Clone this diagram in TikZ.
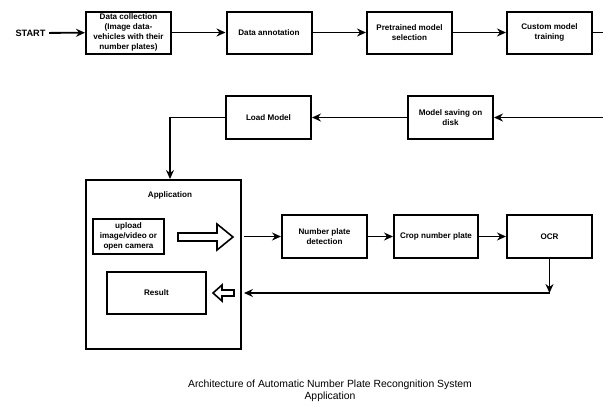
\documentclass[tikz,border=0pt]{standalone}
\usepackage{fontspec}
\setmainfont{Liberation Sans}
\usetikzlibrary{arrows.meta}
\begin{document}
\begin{tikzpicture}[x=1pt,y=-1pt,
  box/.style={draw,line width=2pt,minimum width=85pt,minimum height=42pt,inner sep=1pt,align=center,font=\bfseries\fontsize{8.1}{10}\selectfont},
  conn/.style={line width=1.8pt,-{Stealth[length=9pt,width=8pt,inset=3pt]}},
  plain/.style={line width=1.8pt},
  hollow/.style={draw,line width=1.6pt,fill=white,line join=miter}]
\useasboundingbox (0,0) rectangle (603,405);
\node[font=\bfseries\fontsize{9.2}{10}\selectfont] (start) at (30.5,33) {START};
\node[box] (b1) at (128.5,32.5) {Data collection\\(Image data-\\vehicles with their\\number plates)};
\node[box] (b2) at (269,32.5) {Data annotation};
\node[box] (b3) at (409.5,32.5) {Pretrained model\\selection};
\node[box] (b4) at (549.5,32.5) {Custom model\\training};
\coordinate (r1) at (606,32.5);
\coordinate (r2) at (606,117.5);
\node[box,minimum height=43pt] (ms) at (450.5,117.5) {Model saving on\\disk};
\node[box,minimum height=43pt] (lm) at (268.5,117.5) {Load Model};
\coordinate (bend1) at (170,117.5);
\node[draw,line width=2pt,minimum width=155pt,minimum height=169pt] (app) at (163.5,264.5) {};
\node[font=\bfseries\fontsize{8.1}{10}\selectfont] (apptitle) at (170,195) {Application};
\node[box,minimum width=71pt,minimum height=35pt] (up) at (128.5,236.5) {upload\\image/video or\\open camera};
\node[box,minimum width=99pt,minimum height=42pt] (res) at (156.5,293) {Result};
\node[box,minimum height=43pt] (npd) at (324.5,236.5) {Number plate\\detection};
\node[box,minimum width=84pt,minimum height=43pt] (crop) at (436,236.5) {Crop number plate};
\node[box,minimum height=43pt] (ocr) at (549.5,236.5) {OCR};
\coordinate (ret) at (549.5,293);
% hollow arrows
\draw[hollow] (178,233) -- (217,233) -- (217,224) -- (233,237) -- (217,250) -- (217,241) -- (178,241) -- cycle;
\draw[hollow] (213,293) -- (222,285) -- (222,290) -- (234,290) -- (234,296) -- (222,296) -- (222,301) -- cycle;
% connectors
\draw[conn] (start) -- (b1);
\draw[conn] (b1) -- (b2);
\draw[conn] (b2) -- (b3);
\draw[conn] (b3) -- (b4);
\draw[plain] (b4) -- (r1);
\draw[conn] (r2) -- (ms);
\draw[conn] (ms) -- (lm);
\draw[conn] (lm.west) -- (bend1) -- (app.north -| bend1);
\draw[conn] ([xshift=2pt]app.east |- npd.west) -- (npd.west);
\draw[conn] (npd) -- (crop);
\draw[conn] (crop) -- (ocr);
\draw[conn] (ocr.south) -- (ret);
\draw[conn] (ret) -- ([xshift=2pt]app.east |- ret);
\node[align=center,font=\fontsize{10.4}{12}\selectfont] (cap) at (330,391) {Architecture of Automatic Number Plate Recongnition System\\Application};
\end{tikzpicture}
\end{document}
